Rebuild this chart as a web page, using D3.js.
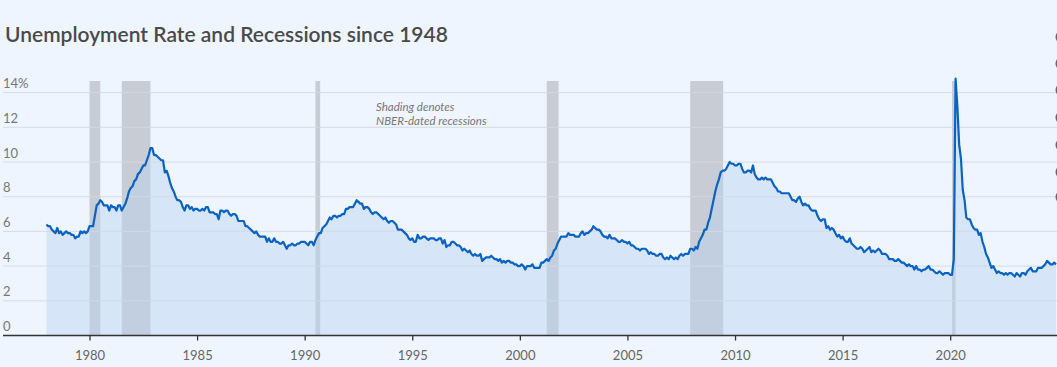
<!DOCTYPE html>
<html>
<head>
<meta charset="utf-8">
<script src="https://cdn.jsdelivr.net/npm/d3@7"></script>
<style>
  html, body { margin: 0; padding: 0; background: #eef5fe; }
  svg { display: block; }
  text { font-family: "Source Sans Pro", Lato, "Open Sans", sans-serif; }
</style>
</head>
<body>
<svg id="chart" width="1057" height="367"></svg>
<script>
const title = "Unemployment Rate and Recessions since 1948";
const annotation = ["Shading denotes", "NBER-dated recessions"];
const startYear = 1978;
const yTicks = [0, 2, 4, 6, 8, 10, 12, 14];
const xTicks = [1980, 1985, 1990, 1995, 2000, 2005, 2010, 2015, 2020];
// recession shading bands [start, end] as fractional years (as drawn in the reference)
const recessions = [
  [1980.0, 1980.5],
  [1981.5, 1982.833],
  [1990.5, 1990.72],
  [2001.25, 2001.8],
  [2007.917, 2009.45],
  [2020.083, 2020.25]
];
// Monthly unemployment rate, Jan 1978 .. Dec 2024 (one row per year)
const rates = [
  [6.4,6.3,6.3,6.1,6.0,5.9,6.2,5.9,6.0,5.8,5.9,6.0],
  [5.9,5.9,5.8,5.8,5.6,5.7,5.7,6.0,5.9,6.0,5.9,6.0],
  [6.3,6.3,6.3,6.9,7.5,7.6,7.8,7.7,7.5,7.5,7.5,7.2],
  [7.5,7.4,7.4,7.2,7.5,7.5,7.2,7.4,7.6,7.9,8.3,8.5],
  [8.6,8.9,9.0,9.3,9.4,9.6,9.8,9.8,10.1,10.4,10.8,10.8],
  [10.4,10.4,10.3,10.2,10.1,10.1,9.4,9.5,9.2,8.8,8.5,8.3],
  [8.0,7.8,7.8,7.7,7.4,7.2,7.5,7.5,7.3,7.4,7.2,7.3],
  [7.3,7.2,7.2,7.3,7.2,7.4,7.4,7.1,7.1,7.1,7.0,7.0],
  [6.7,7.2,7.2,7.1,7.2,7.2,7.0,6.9,7.0,7.0,6.9,6.6],
  [6.6,6.6,6.6,6.3,6.3,6.2,6.1,6.0,5.9,6.0,5.8,5.7],
  [5.7,5.7,5.7,5.4,5.6,5.4,5.4,5.6,5.4,5.4,5.3,5.3],
  [5.4,5.2,5.0,5.2,5.2,5.3,5.2,5.2,5.3,5.3,5.4,5.4],
  [5.4,5.3,5.2,5.4,5.4,5.2,5.5,5.7,5.9,5.9,6.2,6.3],
  [6.4,6.6,6.8,6.7,6.9,6.9,6.8,6.9,6.9,7.0,7.0,7.3],
  [7.3,7.4,7.4,7.4,7.6,7.8,7.7,7.6,7.6,7.3,7.4,7.4],
  [7.3,7.1,7.0,7.1,7.1,7.0,6.9,6.8,6.7,6.8,6.6,6.5],
  [6.6,6.6,6.5,6.4,6.1,6.1,6.1,6.0,5.9,5.8,5.6,5.5],
  [5.6,5.4,5.4,5.8,5.6,5.6,5.7,5.7,5.6,5.5,5.6,5.6],
  [5.6,5.5,5.5,5.6,5.6,5.3,5.5,5.1,5.2,5.2,5.4,5.4],
  [5.3,5.2,5.2,5.1,4.9,5.0,4.9,4.8,4.9,4.7,4.6,4.7],
  [4.6,4.6,4.7,4.3,4.4,4.5,4.5,4.5,4.6,4.5,4.4,4.4],
  [4.3,4.4,4.2,4.3,4.2,4.3,4.3,4.2,4.2,4.1,4.1,4.0],
  [4.0,4.1,4.0,3.8,4.0,4.0,4.0,4.1,3.9,3.9,3.9,3.9],
  [4.2,4.2,4.3,4.4,4.3,4.5,4.6,4.9,5.0,5.3,5.5,5.7],
  [5.7,5.7,5.7,5.9,5.8,5.8,5.8,5.7,5.7,5.7,5.9,6.0],
  [5.8,5.9,5.9,6.0,6.1,6.3,6.2,6.1,6.1,6.0,5.8,5.7],
  [5.7,5.6,5.8,5.6,5.6,5.6,5.5,5.4,5.4,5.5,5.4,5.4],
  [5.3,5.4,5.2,5.2,5.1,5.0,5.0,4.9,5.0,5.0,5.0,4.9],
  [4.7,4.8,4.7,4.7,4.6,4.6,4.7,4.7,4.5,4.4,4.5,4.4],
  [4.6,4.5,4.4,4.5,4.4,4.6,4.7,4.6,4.7,4.7,4.7,5.0],
  [5.0,4.9,5.1,5.0,5.4,5.6,5.8,6.1,6.1,6.5,6.8,7.3],
  [7.8,8.3,8.7,9.0,9.4,9.5,9.5,9.6,9.8,10.0,9.9,9.9],
  [9.8,9.8,9.9,9.9,9.6,9.4,9.4,9.5,9.5,9.4,9.8,9.3],
  [9.1,9.0,9.0,9.1,9.0,9.1,9.0,9.0,9.0,8.8,8.6,8.5],
  [8.3,8.3,8.2,8.2,8.2,8.2,8.2,8.0,7.8,7.8,7.7,7.9],
  [8.0,7.7,7.5,7.6,7.5,7.5,7.3,7.2,7.2,7.2,6.9,6.7],
  [6.6,6.7,6.7,6.2,6.3,6.1,6.2,6.1,5.9,5.7,5.8,5.6],
  [5.7,5.5,5.4,5.4,5.6,5.3,5.2,5.1,5.0,5.0,5.1,5.0],
  [4.8,4.9,5.0,5.1,4.8,4.9,4.8,4.9,5.0,4.9,4.7,4.7],
  [4.7,4.6,4.4,4.4,4.4,4.3,4.3,4.4,4.3,4.2,4.2,4.1],
  [4.0,4.1,4.0,4.0,3.8,4.0,3.8,3.8,3.7,3.8,3.8,3.9],
  [4.0,3.8,3.8,3.7,3.6,3.6,3.7,3.6,3.5,3.6,3.6,3.6],
  [3.5,3.5,4.4,14.8,13.2,11.0,10.2,8.4,7.8,6.8,6.7,6.7],
  [6.4,6.2,6.1,6.1,5.8,5.9,5.4,5.1,4.7,4.5,4.2,3.9],
  [4.0,3.8,3.6,3.7,3.6,3.6,3.5,3.6,3.5,3.6,3.6,3.5],
  [3.4,3.6,3.5,3.4,3.6,3.6,3.5,3.7,3.8,3.9,3.7,3.7],
  [3.7,3.9,3.9,3.9,4.0,4.1,4.3,4.2,4.1,4.1,4.2,4.1]
];

const data = [];
rates.forEach((row, i) => row.forEach((v, m) => data.push({ t: startYear + i + m / 12, v })));

const svg = d3.select("#chart");
const W = 1057, H = 367;

const x = d3.scaleLinear().domain([1980, 2020]).range([89.5, 950.2]);
const y = d3.scaleLinear().domain([0, 14]).range([335.5, 92.6]);

svg.append("rect").attr("width", W).attr("height", H).attr("fill", "#eef5fe");

// title
svg.append("text").attr("x", 5).attr("y", 42)
  .attr("font-size", 21).attr("font-weight", 600).attr("fill", "#4a4a4a")
  .text(title);

// recession shading
svg.append("g").selectAll("rect").data(recessions).join("rect")
  .attr("x", d => x(d[0])).attr("width", d => x(d[1]) - x(d[0]))
  .attr("y", 81).attr("height", d => y(0) - 81)
  .attr("fill", "#c8ccd4");

// area
const area = d3.area().x(d => x(d.t)).y0(y(0)).y1(d => y(d.v));
svg.append("path").datum(data).attr("d", area)
  .attr("fill", "#b9d2f0").attr("fill-opacity", 0.45);

// gridlines
svg.append("g").selectAll("line").data(yTicks.filter(d => d > 0)).join("line")
  .attr("x1", 3).attr("x2", W).attr("y1", d => y(d)).attr("y2", d => y(d))
  .attr("stroke", "#d3dae4").attr("stroke-width", 1).attr("opacity", 0.9);

// y labels
svg.append("g").selectAll("text").data(yTicks).join("text")
  .attr("x", 3).attr("y", d => y(d) - 4.5)
  .attr("font-size", 13).attr("fill", "#777")
  .text(d => d === 14 ? d + "%" : d);

// line
const line = d3.line().x(d => x(d.t)).y(d => y(d.v));
svg.append("path").datum(data).attr("d", line)
  .attr("fill", "none").attr("stroke", "#0a62c2").attr("stroke-width", 2.2)
  .attr("stroke-linejoin", "round");

// x axis
const xAxis = d3.axisBottom(x).tickValues(xTicks).tickFormat(d3.format("d")).tickSize(5).tickSizeOuter(0);
const gx = svg.append("g").attr("transform", `translate(0,${y(0)})`).call(xAxis);
gx.select(".domain").remove();
gx.append("line").attr("x1", 3).attr("x2", W).attr("stroke", "#333").attr("stroke-width", 1.3);
gx.selectAll(".tick line").attr("stroke", "#333").attr("stroke-width", 1.3);
gx.selectAll(".tick text").attr("font-size", 13).attr("fill", "#666")
  .attr("font-family", "\"Source Sans Pro\", Lato, \"Open Sans\", sans-serif").attr("dy", "1.25em");

// annotation
svg.append("g").selectAll("text").data(annotation).join("text")
  .attr("x", 376).attr("y", (d, i) => 111 + i * 13.5)
  .attr("font-size", 11.5).attr("font-style", "italic").attr("fill", "#777")
  .text(d => d);

// partially visible controls at right edge
const ctrl = [37, 63.5, 90, 117.5, 145, 172, 197];
svg.append("g").selectAll("circle").data(ctrl).join("circle")
  .attr("cx", 1062).attr("cy", d => d).attr("r", 6.5).attr("fill", "#666");
</script>
</body>
</html>
